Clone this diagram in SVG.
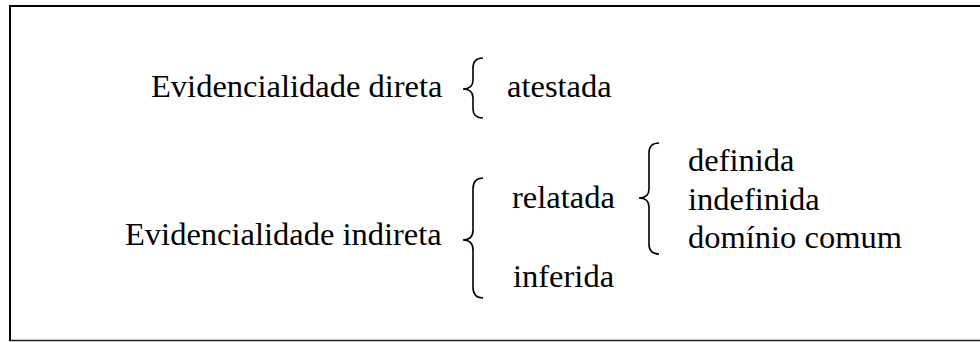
<svg xmlns="http://www.w3.org/2000/svg" width="980" height="342" viewBox="0 0 980 342">
<style>
  .t { font-family: "Liberation Serif", "Times New Roman", serif; font-size: 32.5px; fill: #000; }
  .b { fill: none; stroke: #000; stroke-width: 1.6; }
</style>
<rect x="0" y="0" width="980" height="342" fill="#fff"/>
<g id="frame">
  <line x1="10" y1="6" x2="980" y2="6" stroke="#000" stroke-width="2"/>
  <line x1="10" y1="5" x2="10" y2="341" stroke="#000" stroke-width="2"/>
  <line x1="10" y1="340.5" x2="980" y2="340.5" stroke="#222" stroke-width="1.5"/>
</g>
<g id="n-direta"><text class="t" x="151" y="97">Evidencialidade direta</text></g>
<g id="n-atestada"><text class="t" x="507" y="97">atestada</text></g>
<g id="n-indireta"><text class="t" x="125" y="245">Evidencialidade indireta</text></g>
<g id="n-relatada"><text class="t" x="512" y="208">relatada</text></g>
<g id="n-inferida"><text class="t" x="513" y="287">inferida</text></g>
<g id="n-definida"><text class="t" x="688" y="171">definida</text></g>
<g id="n-indefinida"><text class="t" x="688" y="210">indefinida</text></g>
<g id="n-dominio"><text class="t" x="688" y="248">domínio comum</text></g>
<g id="connectors">
  <path class="b" d="M483,58 Q473,58 473,68 L473,80 Q473,89 463,89 Q473,89 473,98 L473,109 Q473,118 483,118"/>
  <path class="b" d="M483,178 Q473,178 473,189 L473,230 Q473,240 463,240 Q473,240 473,250 L473,287 Q473,298 483,298"/>
  <path class="b" d="M659,143 Q649,143 649,153 L649,189 Q649,198 639,198 Q649,198 649,207 L649,244 Q649,254 659,254"/>
</g>
</svg>
